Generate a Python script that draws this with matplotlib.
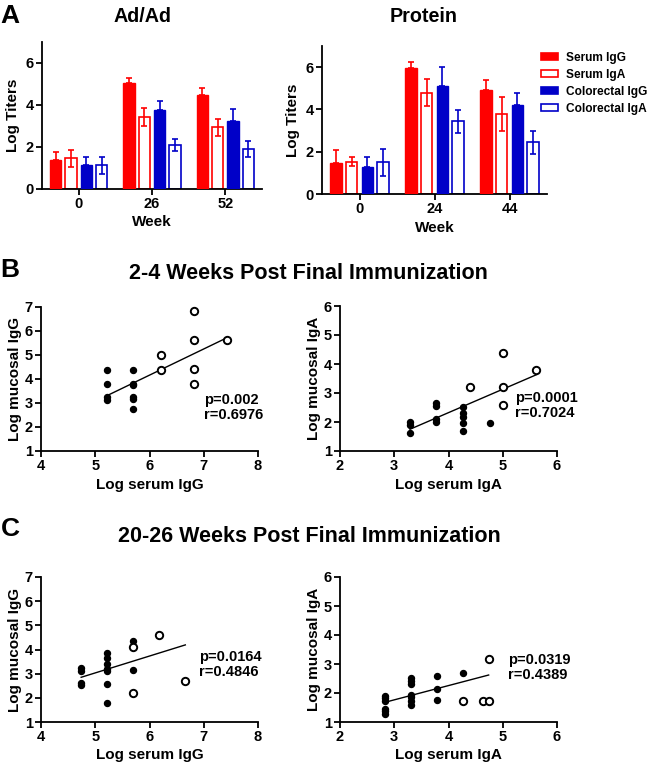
import numpy as np
import matplotlib.pyplot as plt
from matplotlib.patches import Patch

plt.rcParams['font.family'] = ['Liberation Sans', 'DejaVu Sans']
plt.rcParams['font.weight'] = 'bold'
plt.rcParams['axes.labelweight'] = 'bold'

# ---- panel A data ----
series = ['Serum IgG', 'Serum IgA', 'Colorectal IgG', 'Colorectal IgA']
adad_weeks = ['0', '26', '52']
adad_mean = [[1.37, 5.04, 4.50],
             [1.46, 3.43, 2.94],
             [1.12, 3.76, 3.22],
             [1.12, 2.09, 1.90]]
adad_err = [[0.37, 0.24, 0.33],
            [0.39, 0.42, 0.40],
            [0.41, 0.45, 0.61],
            [0.41, 0.27, 0.39]]
prot_weeks = ['0', '24', '44']
prot_mean = [[1.45, 5.96, 4.93],
             [1.53, 4.80, 3.79],
             [1.30, 5.09, 4.20],
             [1.49, 3.43, 2.45]]
prot_err = [[0.63, 0.28, 0.44],
            [0.21, 0.63, 0.79],
            [0.44, 0.92, 0.57],
            [0.63, 0.55, 0.55]]

# ---- panel B data (2-4 weeks) ----
b_igg_fill_x = [5.22, 5.22, 5.22, 5.22, 5.70, 5.70, 5.70, 5.70, 5.70, 5.70]
b_igg_fill_y = [4.37, 3.78, 3.23, 3.12, 4.39, 3.81, 3.73, 3.23, 3.15, 2.76]
b_igg_open_x = [6.22, 6.22, 6.82, 6.82, 6.82, 6.82, 7.42]
b_igg_open_y = [5.00, 4.39, 6.82, 5.61, 4.41, 3.80, 5.61]
b_igg_fit_x = [5.22, 7.42]
b_igg_fit_y = [3.31, 5.71]

b_iga_fill_x = [3.29, 3.29, 3.29, 3.77, 3.77, 3.77, 3.77, 4.26, 4.26, 4.26, 4.26, 4.26, 4.76]
b_iga_fill_y = [2.01, 1.90, 1.61, 2.67, 2.55, 2.09, 2.01, 2.53, 2.32, 2.16, 1.98, 1.70, 1.98]
b_iga_open_x = [4.40, 5.00, 5.00, 5.00, 5.62]
b_iga_open_y = [3.20, 4.39, 3.20, 2.59, 3.79]
b_iga_fit_x = [3.29, 5.62]
b_iga_fit_y = [1.75, 3.63]

# ---- panel C data (20-26 weeks) ----
c_igg_fill_x = [4.74, 4.74, 4.74, 4.74, 5.22, 5.22, 5.22, 5.22, 5.22, 5.22, 5.22, 5.70, 5.70]
c_igg_fill_y = [3.23, 3.09, 2.63, 2.54, 3.84, 3.64, 3.39, 3.20, 3.09, 2.57, 1.78, 4.35, 3.17]
c_igg_open_x = [5.70, 5.70, 6.18, 6.66]
c_igg_open_y = [4.12, 2.22, 4.60, 2.70]
c_igg_fit_x = [4.74, 6.66]
c_igg_fit_y = [2.85, 4.19]

c_iga_fill_x = [2.83, 2.83, 2.83, 2.83, 2.83, 2.83, 3.30, 3.30, 3.30, 3.30, 3.30, 3.30, 3.30,
                3.78, 3.78, 3.78, 4.26]
c_iga_fill_y = [1.90, 1.82, 1.73, 1.46, 1.37, 1.27, 2.51, 2.40, 2.30, 1.94, 1.85, 1.73, 1.59,
                2.60, 2.13, 1.77, 2.68]
c_iga_open_x = [4.26, 4.63, 4.74, 4.74]
c_iga_open_y = [1.73, 1.73, 1.73, 3.17]
c_iga_fit_x = [2.83, 4.74]
c_iga_fit_y = [1.68, 2.62]

stats = {'b_igg': 'p=0.002\nr=0.6976', 'b_iga': 'p=0.0001\nr=0.7024',
         'c_igg': 'p=0.0164\nr=0.4846', 'c_iga': 'p=0.0319\nr=0.4389'}

RED = '#ff0000'
BLUE = '#0000c8'
colors = [RED, RED, BLUE, BLUE]
filled = [True, False, True, False]

W, H = 650, 769
fig = plt.figure(figsize=(W / 100, H / 100), dpi=100)


def px_axes(x0, x1, y_top, y_bot):
    return fig.add_axes([x0 / W, 1 - y_bot / H, (x1 - x0) / W, (y_bot - y_top) / H])


def style(ax):
    for s in ['top', 'right']:
        ax.spines[s].set_visible(False)
    for s in ['left', 'bottom']:
        ax.spines[s].set_linewidth(1.3)
    ax.tick_params(width=1.3, length=4, labelsize=10.5, pad=2)


def bar_panel(ax, weeks, means, errs):
    x = np.arange(len(weeks))
    width = 0.156
    offs = [-0.315, -0.105, 0.105, 0.315]
    for i in range(4):
        m = np.array(means[i])
        e = np.array(errs[i])
        if filled[i]:
            ax.bar(x + offs[i], m, width, color=colors[i], edgecolor=colors[i],
                   linewidth=1.0, zorder=3)
            ax.errorbar(x + offs[i], m, yerr=[np.zeros_like(e), e], fmt='none',
                        ecolor=colors[i], elinewidth=1.2, capsize=2.3, capthick=1.2, zorder=2)
        else:
            ax.bar(x + offs[i], m, width, color='white', edgecolor=colors[i],
                   linewidth=1.2, zorder=2)
            ax.errorbar(x + offs[i], m, yerr=e, fmt='none',
                        ecolor=colors[i], elinewidth=1.2, capsize=2.3, capthick=1.2, zorder=3)
    ax.set_xlim(-0.5, 2.5)
    ax.set_ylim(0, 7)
    ax.set_yticks([0, 2, 4, 6])
    ax.set_xticks(x)
    ax.set_xticklabels(weeks)
    ax.set_xlabel('Week', fontsize=11, labelpad=3)
    ax.set_ylabel('Log Titers', fontsize=11, labelpad=4)
    style(ax)


axA1 = px_axes(42, 262, 42, 189)
bar_panel(axA1, adad_weeks, adad_mean, adad_err)
axA2 = px_axes(322, 547, 46, 194)
bar_panel(axA2, prot_weeks, prot_mean, prot_err)

handles = [Patch(facecolor=colors[i] if filled[i] else 'white', edgecolor=colors[i],
                 linewidth=1.2) for i in range(4)]
fig.legend(handles, series, loc='upper left', bbox_to_anchor=(536 / W, 1 - 47 / H),
           frameon=False, fontsize=8.6, handlelength=1.45, handleheight=0.55,
           handletextpad=0.7, labelspacing=0.42, borderaxespad=0)


def scatter_panel(ax, fx, fy, ox, oy, lx, ly, txt, tx, ty, xlim, ylim, xlab, ylab):
    ax.plot(fx, fy, 'o', color='black', ms=4.3, zorder=3, clip_on=False)
    ax.plot(ox, oy, 'o', mfc='white', mec='black', ms=5.3, mew=1.4, zorder=3, clip_on=False)
    ax.plot(lx, ly, '-', color='black', lw=1.0, zorder=2)
    ax.text(tx, ty, txt, fontsize=10.5, va='center', ha='left', linespacing=1.1)
    ax.set_xlim(*xlim)
    ax.set_ylim(*ylim)
    ax.set_xticks(np.arange(xlim[0], xlim[1] + 1))
    ax.set_yticks(np.arange(ylim[0], ylim[1] + 1))
    ax.set_xlabel(xlab, fontsize=11, labelpad=3)
    ax.set_ylabel(ylab, fontsize=11, labelpad=2)
    style(ax)


axB1 = px_axes(41, 258, 307, 451)
scatter_panel(axB1, b_igg_fill_x, b_igg_fill_y, b_igg_open_x, b_igg_open_y,
              b_igg_fit_x, b_igg_fit_y, stats['b_igg'], 7.0, 2.8,
              (4, 8), (1, 7), 'Log serum IgG', 'Log mucosal IgG')
axB2 = px_axes(340, 557, 306, 451)
scatter_panel(axB2, b_iga_fill_x, b_iga_fill_y, b_iga_open_x, b_iga_open_y,
              b_iga_fit_x, b_iga_fit_y, stats['b_iga'], 5.22, 2.56,
              (2, 6), (1, 6), 'Log serum IgA', 'Log mucosal IgA')
axC1 = px_axes(41, 258, 577, 722)
scatter_panel(axC1, c_igg_fill_x, c_igg_fill_y, c_igg_open_x, c_igg_open_y,
              c_igg_fit_x, c_igg_fit_y, stats['c_igg'], 6.92, 3.37,
              (4, 8), (1, 7), 'Log serum IgG', 'Log mucosal IgG')
axC2 = px_axes(340, 557, 577, 722)
scatter_panel(axC2, c_iga_fill_x, c_iga_fill_y, c_iga_open_x, c_iga_open_y,
              c_iga_fit_x, c_iga_fit_y, stats['c_iga'], 5.10, 2.88,
              (2, 6), (1, 6), 'Log serum IgA', 'Log mucosal IgA')

# panel letters and titles
fig.text(10 / W, 1 - 16 / H, 'A', fontsize=19, ha='center', va='center')
fig.text(143 / W, 1 - 16 / H, 'Ad/Ad', fontsize=14.2, ha='center', va='center')
fig.text(424 / W, 1 - 16 / H, 'Protein', fontsize=14.2, ha='center', va='center')
fig.text(10 / W, 1 - 270 / H, 'B', fontsize=19, ha='center', va='center')
fig.text(308 / W, 1 - 273 / H, '2-4 Weeks Post Final Immunization', fontsize=15.5,
         ha='center', va='center')
fig.text(10 / W, 1 - 529 / H, 'C', fontsize=19, ha='center', va='center')
fig.text(309 / W, 1 - 537 / H, '20-26 Weeks Post Final Immunization', fontsize=15.5,
         ha='center', va='center')

fig.savefig('out.png', dpi=100)
